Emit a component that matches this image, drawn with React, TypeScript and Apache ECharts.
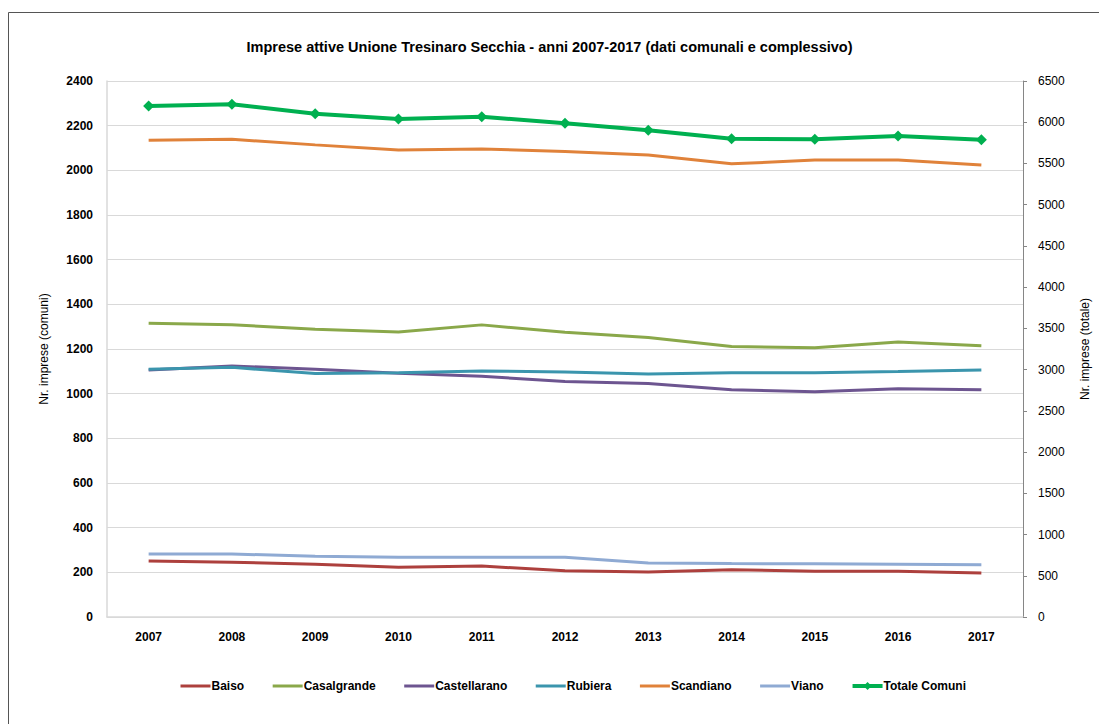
import React, { useEffect, useRef } from "react";
import * as echarts from "echarts";

const years = ["2007", "2008", "2009", "2010", "2011", "2012", "2013", "2014", "2015", "2016", "2017"];
const baiso = [251, 245, 236, 223, 228, 207, 201, 212, 205, 205, 197];
const casalgrande = [1315, 1309, 1288, 1276, 1308, 1275, 1251, 1211, 1206, 1231, 1215];
const castellarano = [1106, 1124, 1109, 1091, 1078, 1054, 1046, 1017, 1009, 1022, 1017];
const rubiera = [1109, 1118, 1090, 1094, 1102, 1097, 1088, 1094, 1094, 1099, 1106];
const scandiano = [2135, 2139, 2114, 2091, 2096, 2084, 2069, 2029, 2046, 2046, 2024];
const viano = [282, 282, 272, 267, 267, 267, 242, 239, 238, 236, 234];
const totale = [6197, 6217, 6104, 6039, 6067, 5987, 5902, 5801, 5793, 5833, 5789];
const legendNames = ["Baiso", "Casalgrande", "Castellarano", "Rubiera", "Scandiano", "Viano", "Totale Comuni"];

const FONT = "'Liberation Sans', Arial, sans-serif";

export default function App() {
  const ref = useRef<HTMLDivElement>(null);
  useEffect(() => {
    if (!ref.current) return;
    const chart = echarts.init(ref.current, undefined, { renderer: "svg" });
    const line = (name: string, data: number[], color: string) => ({
      name,
      type: "line",
      data,
      yAxisIndex: 0,
      symbol: "none",
      lineStyle: { color, width: 3 },
      itemStyle: { color },
    });
    const plain = (v: number) => String(v);
    chart.setOption({
      animation: false,
      backgroundColor: "#ffffff",
      textStyle: { fontFamily: FONT },
      title: {
        text: "Imprese attive Unione Tresinaro Secchia - anni 2007-2017 (dati comunali e complessivo)",
        left: "center",
        top: 34,
        textStyle: { fontFamily: FONT, fontSize: 14.5, fontWeight: "bold", color: "#000" },
      },
      graphic: [
        {
          type: "rect",
          shape: { x: 8.5, y: 12.5, width: 1200, height: 800 },
          style: { fill: "none", stroke: "#555", lineWidth: 1 },
          silent: true,
        },
      ],
      grid: { left: 107, right: 69, top: 81, bottom: 107, containLabel: false },
      legend: {
        bottom: 27,
        left: 174,
        itemWidth: 30,
        itemHeight: 10,
        itemGap: 27,
        textStyle: { fontFamily: FONT, fontSize: 12, fontWeight: "bold", color: "#000", padding: [0, 0, 0, -4] },
        data: legendNames.map((n, i) =>
          i < 6
            ? { name: n, itemStyle: { opacity: 0 }, lineStyle: { width: 3 } }
            : { name: n, lineStyle: { width: 4 } }
        ),
      },
      xAxis: {
        type: "category",
        data: years,
        boundaryGap: true,
        axisLine: { lineStyle: { color: "#d9d9d9", width: 1.5 } },
        axisTick: { show: false },
        axisLabel: { fontFamily: FONT, fontSize: 12, fontWeight: "bold", color: "#000", margin: 14 },
      },
      yAxis: [
        {
          type: "value",
          min: 0,
          max: 2400,
          interval: 200,
          name: "Nr. imprese (comuni)",
          nameLocation: "middle",
          nameRotate: 90,
          nameGap: 57,
          nameTextStyle: { fontFamily: FONT, fontSize: 12, color: "#000" },
          axisLine: { show: true, lineStyle: { color: "#d9d9d9", width: 1.5 } },
          axisTick: { show: false },
          splitLine: { lineStyle: { color: "#d9d9d9", width: 1 } },
          axisLabel: { fontFamily: FONT, fontSize: 12, fontWeight: "bold", color: "#000", margin: 14, formatter: plain },
        },
        {
          type: "value",
          min: 0,
          max: 6500,
          interval: 500,
          position: "right",
          name: "Nr. imprese (totale)",
          nameLocation: "middle",
          nameRotate: 90,
          nameGap: 56,
          nameTextStyle: { fontFamily: FONT, fontSize: 12, color: "#000" },
          axisLine: { show: true, lineStyle: { color: "#868686", width: 1 } },
          axisTick: { show: true, length: 4, inside: false, lineStyle: { color: "#868686" } },
          splitLine: { show: false },
          axisLabel: { fontFamily: FONT, fontSize: 12, color: "#000", margin: 15, formatter: plain },
        },
      ],
      series: [
        line("Baiso", baiso, "#ad403d"),
        line("Casalgrande", casalgrande, "#8aa84a"),
        line("Castellarano", castellarano, "#6d5590"),
        line("Rubiera", rubiera, "#3b95ad"),
        line("Scandiano", scandiano, "#e0823a"),
        line("Viano", viano, "#8faad3"),
        {
          name: "Totale Comuni",
          type: "line",
          data: totale,
          yAxisIndex: 1,
          symbol: "diamond",
          symbolSize: 11,
          lineStyle: { color: "#00b050", width: 4 },
          itemStyle: { color: "#00b050" },
        },
      ],
    });
    return () => chart.dispose();
  }, []);
  return <div ref={ref} style={{ position: "absolute", left: 0, top: 0, width: 1099, height: 724 }} />;
}
